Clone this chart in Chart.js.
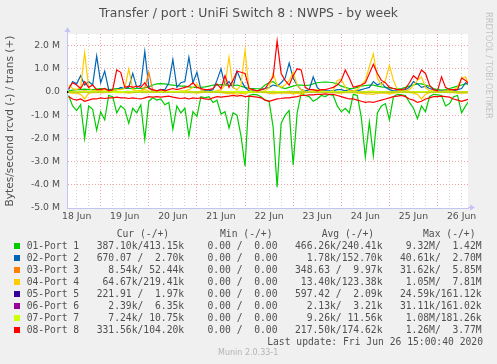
<!DOCTYPE html>
<html>
<head>
<meta charset="utf-8">
<script src="https://cdn.jsdelivr.net/npm/chart.js@4.4.1/dist/chart.umd.min.js"></script>
<style>
  html, body { margin: 0; padding: 0; background: #f0f0f0; }
  #wrap { position: relative; width: 497px; height: 364px; overflow: hidden; }
  canvas { position: absolute; left: 0; top: 0; }
  .t { position: absolute; white-space: pre; color: #505050; }
  #title { left: 0; top: 6px; width: 497px; text-align: center; font: 12.4px/14px "DejaVu Sans", sans-serif; }
  #brand { left: 484px; top: 12px; writing-mode: vertical-rl; font: 8.3px/10px "DejaVu Sans", sans-serif; color: #c4c4c4; }
  .mono { font: 9.7px/12px "DejaVu Sans Mono", monospace; }
  .sq { position: absolute; width: 6px; height: 6px; }
  #munin { left: 218px; top: 348px; font: 8px/10px "DejaVu Sans", sans-serif; color: #b4b4b4; }
</style>
</head>
<body>
<div id="wrap">
  <canvas id="chart" width="497" height="364"></canvas>
  <div id="title" class="t">Transfer / port : UniFi Switch 8 : NWPS - by week</div>
  <div id="brand" class="t">RRDTOOL / TOBI OETIKER</div>
  <div id="legend"></div>
  <div id="munin" class="t">Munin 2.0.33-1</div>
</div>
<script>
// --- week graph, values in M bytes/s, one sample every 2 h from 18 Jun 08:00
const startHour = 8;
const stepHours = 2;
// quiet ports, one sample every 8 h
const minorStep = 8;

const dayLabels = ["18 Jun", "19 Jun", "20 Jun", "21 Jun", "22 Jun", "23 Jun", "24 Jun", "25 Jun", "26 Jun"];

const port1In = [
  0.15, 0.6, 0.8, 0.55, 2.0, 0.6, 0.75, 1.65, 0.85, 1.2,
  0.15, 0.2, 0.9, 0.6, 0.75, 1.35, 0.7, 0.9, 0.55, 2.05,
  0.4, 0.25, 0.35, 0.3, 0.55, 0.45, 1.6, 0.6, 0.9, 0.7,
  1.9, 0.85, 1.05, 0.2, 0.25, 0.2, 0.45, 0.35, 0.95, 0.85,
  1.55, 0.9, 1.0, 1.9, 3.2, 0.15, 0.1, 0.12, 0.2, 0.35,
  0.4, 1.5, 4.1, 1.35, 1.0, 0.8, 3.15, 0.9, 0.05, 0.15,
  0.2, 0.4, 0.3, 0.15, 0.2, 0.1, 0.15, 0.6, 0.85, 0.7,
  0.9, 0.1, 0.15, 1.1, 2.8, 1.3, 2.75, 0.9, 0.6, 0.5,
  1.2, 0.2, 0.1, 0.12, 0.15, 0.45, 0.7, 1.15, 0.6, 0.85,
  0.2, 0.1, 0.12, 0.15, 0.6, 0.5, 0.2, 0.15, 0.9, 0.6,
  0.35
];
const port1Out = [
  0.05, 0.08, 0.1, 0.1, 0.12, 0.1, 0.1, 0.12, 0.15, 0.12,
  0.1, 0.12, 0.15, 0.14, 0.15, 0.15, 0.14, 0.15, 0.15, 0.18,
  0.22, 0.3, 0.35, 0.36, 0.35, 0.32, 0.3, 0.28, 0.25, 0.25,
  0.22, 0.2, 0.2, 0.2, 0.22, 0.25, 0.3, 0.3, 0.32, 0.3,
  0.3, 0.28, 0.3, 0.25, 0.2, 0.15, 0.15, 0.14, 0.15, 0.3,
  0.4, 0.45, 0.3, 0.2, 0.15, 0.2, 0.25, 0.3, 0.3, 0.28,
  0.3, 0.35, 0.4, 0.42, 0.43, 0.42, 0.4, 0.35, 0.25, 0.2,
  0.15, 0.15, 0.2, 0.25, 0.28, 0.3, 0.3, 0.25, 0.22, 0.2,
  0.18, 0.15, 0.12, 0.15, 0.2, 0.25, 0.3, 0.35, 0.35, 0.3,
  0.25, 0.15, 0.1, 0.08, 0.1, 0.15, 0.2, 0.25, 0.3, 0.35,
  0.35
];
const port2Out = [
  0.1, 0.45, 0.35, 0.7, 0.3, 0.45, 0.3, 1.55, 0.4, 0.9,
  0.1, 0.05, 0.1, 0.2, 0.15, 0.2, 0.8, 0.2, 0.3, 1.75,
  0.2, 0.05, 0.05, 0.1, 0.1, 0.4, 1.4, 0.2, 0.4, 0.45,
  1.5, 0.4, 0.85, 0.1, 0.05, 0.05, 0.1, 0.5, 1.0, 0.3,
  0.45, 0.2, 0.9, 0.5, 0.2, 0.05, 0.05, 0.05, 0.1, 0.15,
  0.2, 0.3, 0.25, 0.4, 0.6, 1.25, 0.6, 0.3, 0.1, 0.05,
  0.1, 0.65, 0.2, 0.05, 0.05, 0.05, 0.05, 0.1, 0.1, 0.05,
  0.1, 0.05, 0.05, 0.1, 0.15, 0.2, 0.45, 0.3, 0.4, 0.2,
  0.1, 0.05, 0.05, 0.05, 0.1, 0.2, 0.45, 0.35, 0.2, 0.25,
  0.15, 0.1, 0.05, 0.05, 0.05, 0.05, 0.05, 0.1, 0.15, 0.4,
  0.3
];
const port3Out = [
  0.02, 0.03, 0.02, 0.02, 0.05, 0.02, 0.02, 0.03, 0.02, 0.02,
  0.01, 0.01, 0.02, 0.02, 0.02, 0.03, 0.02, 0.02, 0.05, 0.2,
  0.85, 0.05, 0.02, 0.01, 0.01, 0.02, 0.02, 0.01, 0.02, 0.02,
  0.03, 0.02, 0.02, 0.01, 0.01, 0.01, 0.02, 0.02, 0.03, 0.02,
  0.02, 0.02, 0.03, 0.02, 0.02, 0.01, 0.01, 0.01, 0.01, 0.02,
  0.02, 0.03, 0.02, 0.02, 0.02, 0.03, 0.02, 0.02, 0.01, 0.01,
  0.01, 0.01, 0.01, 0.01, 0.01, 0.01, 0.01, 0.02, 0.02, 0.02,
  0.01, 0.01, 0.01, 0.02, 0.02, 0.03, 0.03, 0.02, 0.02, 0.02,
  0.02, 0.01, 0.01, 0.01, 0.01, 0.02, 0.02, 0.02, 0.02, 0.01,
  0.01, 0.01, 0.01, 0.01, 0.01, 0.01, 0.02, 0.02, 0.02, 0.02,
  0.02
];
const port4In = [
  0.03, 0.05, 0.05, 0.1, 0.3, 0.05, 0.03, 0.03, 0.02, 0.03,
  0.02, 0.02, 0.03, 0.03, 0.03, 0.05, 0.03, 0.02, 0.02, 0.03,
  0.02, 0.02, 0.02, 0.02, 0.02, 0.02, 0.02, 0.02, 0.02, 0.03,
  0.03, 0.03, 0.05, 0.03, 0.02, 0.02, 0.02, 0.02, 0.03, 0.05,
  0.08, 0.05, 0.1, 0.05, 0.08, 0.02, 0.02, 0.02, 0.02, 0.03,
  0.05, 0.08, 0.05, 0.05, 0.05, 0.05, 0.08, 0.05, 0.1, 0.03,
  0.02, 0.02, 0.02, 0.02, 0.02, 0.02, 0.03, 0.05, 0.05, 0.03,
  0.03, 0.03, 0.05, 0.05, 0.08, 0.08, 0.1, 0.05, 0.05, 0.05,
  0.08, 0.05, 0.03, 0.02, 0.02, 0.03, 0.05, 0.1, 0.3, 0.1,
  0.03, 0.02, 0.02, 0.02, 0.02, 0.03, 0.03, 0.05, 0.05, 0.05,
  0.03
];
const port4Out = [
  0.3, 0.15, 0.1, 0.2, 1.7, 0.2, 0.05, 0.05, 0.05, 0.1,
  0.05, 0.05, 0.1, 0.1, 0.15, 1.0, 0.1, 0.05, 0.05, 0.1,
  0.05, 0.02, 0.02, 0.03, 0.02, 0.02, 0.03, 0.02, 0.05, 0.05,
  0.1, 0.2, 0.35, 0.1, 0.02, 0.02, 0.03, 0.05, 0.1, 0.3,
  1.5, 0.2, 0.1, 0.3, 1.8, 0.1, 0.02, 0.02, 0.03, 0.05,
  0.2, 0.8, 0.3, 0.2, 0.3, 0.5, 0.85, 0.3, 0.1, 0.03,
  0.02, 0.05, 0.1, 0.05, 0.03, 0.02, 0.05, 0.5, 0.55, 0.2,
  0.05, 0.05, 0.1, 0.3, 0.5, 1.1, 1.65, 0.6, 0.3, 0.5,
  1.15, 0.5, 0.1, 0.05, 0.05, 0.1, 0.3, 0.5, 0.65, 0.2,
  0.05, 0.05, 0.03, 0.03, 0.05, 0.05, 0.1, 0.2, 0.6, 0.65,
  0.2
];
const port8In = [
  0.2, 0.3, 0.35, 0.3, 0.4, 0.35, 0.3, 0.3, 0.25, 0.28,
  0.25, 0.25, 0.22, 0.25, 0.25, 0.28, 0.25, 0.28, 0.3, 0.25,
  0.2, 0.22, 0.2, 0.22, 0.2, 0.18, 0.22, 0.25, 0.28, 0.25,
  0.3, 0.25, 0.28, 0.25, 0.3, 0.32, 0.25, 0.2, 0.22, 0.2,
  0.18, 0.15, 0.18, 0.15, 0.2, 0.18, 0.2, 0.22, 0.25, 0.35,
  0.4, 0.35, 0.3, 0.28, 0.25, 0.25, 0.22, 0.2, 0.15, 0.15,
  0.12, 0.12, 0.1, 0.1, 0.08, 0.1, 0.1, 0.15, 0.2, 0.25,
  0.3, 0.3, 0.35, 0.4, 0.45, 0.42, 0.45, 0.4, 0.35, 0.3,
  0.25, 0.2, 0.18, 0.15, 0.2, 0.3, 0.35, 0.45, 0.4, 0.3,
  0.25, 0.2, 0.2, 0.18, 0.2, 0.22, 0.3, 0.35, 0.4, 0.35,
  0.3
];
const port8Out = [
  0.15, 0.4, 0.3, 0.15, 0.45, 0.2, 0.3, 0.1, 0.1, 0.15,
  0.05, 0.1, 0.95, 0.85, 0.2, 0.25, 0.2, 0.25, 0.2, 0.4,
  0.15, 0.1, 0.05, 0.1, 0.05, 0.1, 0.15, 0.1, 0.15, 0.2,
  0.25, 0.4, 0.2, 0.15, 0.1, 0.1, 0.15, 0.35, 0.15, 0.7,
  0.2, 0.5, 0.9, 0.85, 0.8, 0.15, 0.1, 0.05, 0.1, 0.15,
  0.4, 0.65, 2.2, 0.8, 0.5, 0.3, 0.7, 1.0, 0.95, 0.2,
  0.1, 0.1, 0.05, 0.1, 0.1, 0.15, 0.2, 0.3, 0.5, 0.95,
  0.6, 0.2, 0.25, 0.3, 0.4, 0.8, 1.2, 0.8, 0.5, 0.4,
  0.2, 0.15, 0.1, 0.1, 0.15, 0.4, 0.7, 0.55, 0.95, 0.8,
  0.3, 0.1, 0.05, 0.65, 0.2, 0.1, 0.1, 0.1, 0.6, 0.5,
  0.3
];

// quiet ports (8 h samples)
const port2In = [0.002, 0.003, 0.002, 0.001, 0.002, 0.002, 0.003, 0.002, 0.001, 0.002, 0.002, 0.003, 0.002, 0.002, 0.001, 0.002, 0.002, 0.002, 0.003, 0.002, 0.001, 0.002, 0.002, 0.001, 0.001, 0.001];
const port3In = [0.001, 0.0, 0.001, 0.0, 0.0, 0.001, 0.0, 0.0, 0.001, 0.0, 0.0, 0.0, 0.001, 0.0, 0.0, 0.001, 0.0, 0.0, 0.0, 0.001, 0.0, 0.0, 0.001, 0.0, 0.0, 0.0];
const port5In = [0.001, 0.001, 0.0, 0.001, 0.001, 0.0, 0.001, 0.001, 0.001, 0.0, 0.001, 0.001, 0.0, 0.001, 0.001, 0.001, 0.0, 0.001, 0.001, 0.0, 0.001, 0.001, 0.001, 0.0, 0.001, 0.0];
const port5Out = [0.002, 0.002, 0.003, 0.002, 0.002, 0.001, 0.002, 0.003, 0.002, 0.002, 0.002, 0.002, 0.003, 0.002, 0.001, 0.002, 0.002, 0.003, 0.002, 0.002, 0.002, 0.001, 0.002, 0.002, 0.002, 0.002];
const port6In = [0.002, 0.002, 0.003, 0.002, 0.002, 0.002, 0.001, 0.002, 0.003, 0.002, 0.002, 0.002, 0.002, 0.003, 0.002, 0.002, 0.002, 0.001, 0.002, 0.002, 0.003, 0.002, 0.002, 0.002, 0.002, 0.002];
const port6Out = [0.003, 0.003, 0.004, 0.003, 0.003, 0.002, 0.003, 0.004, 0.003, 0.003, 0.003, 0.004, 0.003, 0.003, 0.002, 0.003, 0.004, 0.003, 0.003, 0.003, 0.004, 0.003, 0.003, 0.003, 0.006, 0.006];
const port7In = [0.008, 0.01, 0.009, 0.012, 0.008, 0.009, 0.011, 0.01, 0.008, 0.009, 0.01, 0.012, 0.009, 0.008, 0.01, 0.009, 0.011, 0.009, 0.008, 0.01, 0.009, 0.008, 0.01, 0.009, 0.007, 0.007];
const port7Out = [0.011, 0.012, 0.01, 0.013, 0.012, 0.011, 0.012, 0.013, 0.01, 0.011, 0.012, 0.014, 0.011, 0.012, 0.011, 0.01, 0.013, 0.012, 0.011, 0.012, 0.011, 0.01, 0.012, 0.011, 0.011, 0.011];

// --- legend table
const portNames = ["01-Port 1", "02-Port 2", "03-Port 3", "04-Port 4", "05-Port 5", "06-Port 6", "07-Port 7", "08-Port 8"];
const portColors = ["#00CC00", "#0066B3", "#FF8000", "#FFCC00", "#330099", "#990099", "#CCFF00", "#FF0000"];
const curVals = ["387.10k/413.15k", "670.07 /  2.70k", "  8.54k/ 52.44k", " 64.67k/219.41k", "221.91 /  1.97k", "  2.39k/  6.35k", "  7.24k/ 10.75k", "331.56k/104.20k"];
const minVals = ["  0.00 /  0.00 ", "  0.00 /  0.00 ", "  0.00 /  0.00 ", "  0.00 /  0.00 ", "  0.00 /  0.00 ", "  0.00 /  0.00 ", "  0.00 /  0.00 ", "  0.00 /  0.00 "];
const avgVals = ["466.26k/240.41k", "  1.78k/152.70k", "348.63 /  9.97k", " 13.40k/123.38k", "597.42 /  2.09k", "  2.13k/  3.21k", "  9.26k/ 11.56k", "217.50k/174.62k"];
const maxVals = ["  9.32M/  1.42M", " 40.61k/  2.70M", " 31.62k/  5.85M", "  1.05M/  7.81M", " 24.59k/161.12k", " 31.11k/161.02k", "  1.08M/181.26k", "  1.26M/  3.77M"];
const lastUpdate = "Last update: Fri Jun 26 15:00:40 2020";

const axisColor = "#c4c4f4";
const gridMinor = "#d4d4d4";
const gridMajor = "#f2a6a6";

/* ----- legend below the graph ----- */
const legend = document.getElementById("legend");
const heads = [["Cur (-/+)", 116.7], ["Min (-/+)", 220], ["Avg (-/+)", 321.7], ["Max (-/+)", 423]];
heads.forEach(([txt, left]) => {
  const d = document.createElement("div");
  d.className = "t mono";
  d.style.left = left + "px";
  d.style.top = "227.5px";
  d.textContent = txt;
  legend.appendChild(d);
});
portNames.forEach((name, k) => {
  const y = 245.5 + 12 * k;
  const sq = document.createElement("div");
  sq.className = "sq";
  sq.style.left = "14px";
  sq.style.top = (y - 3) + "px";
  sq.style.background = portColors[k];
  legend.appendChild(sq);
  const row = document.createElement("div");
  row.className = "t mono";
  row.style.left = "26.7px";
  row.style.top = (y - 6) + "px";
  row.textContent = name.padEnd(12) + curVals[k] + "  " + minVals[k] + "  " + avgVals[k] + "  " + maxVals[k];
  legend.appendChild(row);
});
const lu = document.createElement("div");
lu.className = "t mono";
lu.style.right = "14px";
lu.style.top = "335.7px";
lu.textContent = lastUpdate;
legend.appendChild(lu);

/* ----- datasets ----- */
function series(vals, t0, step, sign) {
  return vals.map((v, i) => ({ x: t0 + step * i, y: sign * v }));
}
const ins = [
  series(port1In, startHour, stepHours, -1), series(port2In, startHour, minorStep, -1),
  series(port3In, startHour, minorStep, -1), series(port4In, startHour, stepHours, -1),
  series(port5In, startHour, minorStep, -1), series(port6In, startHour, minorStep, -1),
  series(port7In, startHour, minorStep, -1), series(port8In, startHour, stepHours, -1)
];
const outs = [
  series(port1Out, startHour, stepHours, 1), series(port2Out, startHour, stepHours, 1),
  series(port3Out, startHour, stepHours, 1), series(port4Out, startHour, stepHours, 1),
  series(port5Out, startHour, minorStep, 1), series(port6Out, startHour, minorStep, 1),
  series(port7Out, startHour, minorStep, 1), series(port8Out, startHour, stepHours, 1)
];
const datasets = [];
portNames.forEach((name, k) => {
  datasets.push({ label: name + " in", data: ins[k], borderColor: portColors[k], order: 100 - 2 * k });
  datasets.push({ label: name + " out", data: outs[k], borderColor: portColors[k], order: 99 - 2 * k });
});

// x ticks every 6 h, day label at noon
const tickHours = [];
for (let h = 12; h <= 12 + 24 * (dayLabels.length - 1); h += 6) tickHours.push(h);

const muninLook = {
  id: "muninLook",
  beforeDraw(chart) {
    const { ctx, chartArea: a } = chart;
    ctx.save();
    ctx.fillStyle = "#ffffff";
    ctx.fillRect(a.left, a.top, a.right - a.left, a.bottom - a.top);
    ctx.restore();
  },
  beforeDatasetsDraw(chart) {
    const { ctx, chartArea: a } = chart;
    const y0 = Math.round(chart.scales.y.getPixelForValue(0));
    ctx.save();
    ctx.strokeStyle = "#000000";
    ctx.lineWidth = 2;
    ctx.beginPath();
    ctx.moveTo(a.left, y0);
    ctx.lineTo(a.right, y0);
    ctx.stroke();
    ctx.restore();
  },
  afterDraw(chart) {
    const { ctx, chartArea: a } = chart;
    ctx.save();
    ctx.strokeStyle = axisColor;
    ctx.fillStyle = axisColor;
    ctx.lineWidth = 1;
    // y arrow
    ctx.beginPath();
    ctx.moveTo(a.left + 0.5, a.top);
    ctx.lineTo(a.left + 0.5, a.top - 3);
    ctx.stroke();
    ctx.beginPath();
    ctx.moveTo(a.left - 2.5, a.top - 2);
    ctx.lineTo(a.left + 3.5, a.top - 2);
    ctx.lineTo(a.left + 0.5, a.top - 7);
    ctx.closePath();
    ctx.fill();
    // x arrow
    ctx.beginPath();
    ctx.moveTo(a.right, a.bottom - 0.5);
    ctx.lineTo(a.right + 3, a.bottom - 0.5);
    ctx.stroke();
    ctx.beginPath();
    ctx.moveTo(a.right + 2, a.bottom - 3.5);
    ctx.lineTo(a.right + 2, a.bottom + 2.5);
    ctx.lineTo(a.right + 7, a.bottom - 0.5);
    ctx.closePath();
    ctx.fill();
    ctx.restore();
  }
};

Chart.defaults.font.family = "'DejaVu Sans', sans-serif";

new Chart(document.getElementById("chart").getContext("2d"), {
  type: "line",
  data: { datasets },
  plugins: [muninLook],
  options: {
    responsive: false,
    animation: false,
    devicePixelRatio: 1,
    layout: { padding: { top: 34, right: 29, bottom: 136, left: 0 } },
    plugins: { legend: { display: false }, tooltip: { enabled: false } },
    elements: { point: { radius: 0 }, line: { borderWidth: 1.2, tension: 0 } },
    scales: {
      x: {
        type: "linear",
        min: 7.2,
        max: 207.2,
        afterFit(s) { s.height = 20; },
        afterBuildTicks(s) { s.ticks = tickHours.map(v => ({ value: v })); },
        ticks: {
          autoSkip: false, maxRotation: 0, minRotation: 0, padding: 3,
          color: "#505050", font: { size: 9.3 },
          callback(v) {
            const d = (v - 12) / 24;
            return Number.isInteger(d) ? dayLabels[d] : "";
          }
        },
        grid: {
          drawTicks: false,
          color: c => (c.tick && c.tick.value % 24 === 0 ? gridMajor : gridMinor)
        },
        border: { color: axisColor, dash: [1, 2] }
      },
      y: {
        min: -5,
        max: 2.5,
        afterFit(s) { s.width = 67; },
        ticks: {
          stepSize: 0.5, padding: 7, color: "#505050", font: { size: 9.3 },
          callback(v) {
            if (!Number.isInteger(v)) return "";
            return v === 0 ? "0.0" : v.toFixed(1) + " M";
          }
        },
        title: {
          display: true, text: "Bytes/second rcvd (-) / trans (+)",
          color: "#505050", font: { size: 10.6 }, padding: { top: 4, bottom: 0 }
        },
        grid: {
          drawTicks: false,
          color: c => (c.tick && Number.isInteger(c.tick.value) ? gridMajor : gridMinor)
        },
        border: { color: axisColor, dash: [1, 2] }
      }
    }
  }
});
</script>
</body>
</html>
